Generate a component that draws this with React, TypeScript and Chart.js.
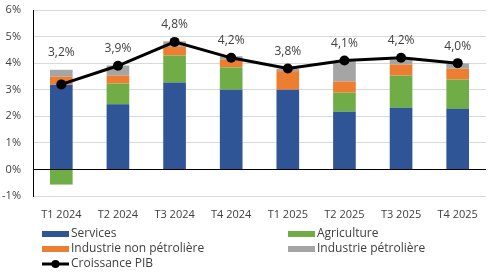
import React, { useEffect, useRef } from "react";
import { Chart, registerables } from "chart.js";

Chart.register(...registerables);

const categories = ["T1 2024", "T2 2024", "T3 2024", "T4 2024", "T1 2025", "T2 2025", "T3 2025", "T4 2025"];
const services = [3.19, 2.45, 3.27, 3.0, 3.0, 2.17, 2.32, 2.28];
const agriculture = [-0.57, 0.78, 1.02, 0.84, 0.0, 0.72, 1.21, 1.1];
const industrieNonPetroliere = [0.3, 0.3, 0.32, 0.3, 0.7, 0.42, 0.42, 0.41];
const industriePetroliere = [0.26, 0.38, 0.21, 0.12, 0.09, 0.76, 0.19, 0.2];
const croissancePIB = [3.2, 3.9, 4.8, 4.2, 3.8, 4.1, 4.2, 4.0];
const yTicks = [-1, 0, 1, 2, 3, 4, 5, 6];

const FONT = "'Open Sans', sans-serif";
const TEXT = "#404040";

const labelPlugin = {
  id: "lineLabels",
  afterDatasetsDraw(chart: any) {
    const ctx = chart.ctx;
    const idx = chart.data.datasets.findIndex((d: any) => d.type === "line");
    const meta = chart.getDatasetMeta(idx);
    ctx.save();
    ctx.font = `12px ${FONT}`;
    ctx.fillStyle = TEXT;
    ctx.textAlign = "center";
    ctx.textBaseline = "middle";
    meta.data.forEach((pt: any, i: number) => {
      const v = chart.data.datasets[idx].data[i] as number;
      const txt = v.toFixed(1).replace(".", ",") + "%";
      const off = i === 0 ? 32 : 17;
      ctx.fillText(txt, pt.x, pt.y - off);
    });
    ctx.restore();
  },
};

const legendPlugin = {
  id: "customLegend",
  afterDraw(chart: any) {
    const ctx = chart.ctx;
    const cols = [42, 288];
    const rows = [234, 249, 264];
    ctx.save();
    ctx.font = `12px ${FONT}`;
    ctx.textBaseline = "middle";
    ctx.textAlign = "left";
    chart.data.datasets.forEach((ds: any, i: number) => {
      const x = cols[i % 2];
      const y = rows[Math.floor(i / 2)];
      if (ds.type === "line") {
        ctx.strokeStyle = ds.borderColor;
        ctx.lineWidth = 3;
        ctx.beginPath();
        ctx.moveTo(x, y);
        ctx.lineTo(x + 27, y);
        ctx.stroke();
        ctx.fillStyle = ds.borderColor;
        ctx.beginPath();
        ctx.arc(x + 13.5, y, 4, 0, Math.PI * 2);
        ctx.fill();
      } else {
        ctx.fillStyle = ds.backgroundColor;
        ctx.fillRect(x, y - 3, 27, 6);
      }
      ctx.fillStyle = TEXT;
      ctx.fillText(ds.label, x + 29, y);
    });
    ctx.restore();
  },
};

export default function App() {
  const ref = useRef<HTMLCanvasElement>(null);
  useEffect(() => {
    document.body.style.margin = "0";
    const chart = new Chart(ref.current!, {
      type: "bar",
      data: {
        labels: categories,
        datasets: [
          { type: "bar", label: "Services", data: services, backgroundColor: "#2F5597", stack: "s", order: 1, barPercentage: 0.4, categoryPercentage: 1 },
          { type: "bar", label: "Agriculture", data: agriculture, backgroundColor: "#70AD47", stack: "s", order: 1, barPercentage: 0.4, categoryPercentage: 1 },
          { type: "bar", label: "Industrie non pétrolière", data: industrieNonPetroliere, backgroundColor: "#ED7D31", stack: "s", order: 1, barPercentage: 0.4, categoryPercentage: 1 },
          { type: "bar", label: "Industrie pétrolière", data: industriePetroliere, backgroundColor: "#A5A5A5", stack: "s", order: 1, barPercentage: 0.4, categoryPercentage: 1 },
          { type: "line", label: "Croissance PIB", data: croissancePIB, borderColor: "#000000", backgroundColor: "#000000", borderWidth: 3, pointRadius: 5, pointBackgroundColor: "#000000", pointBorderWidth: 0, order: 0, tension: 0 } as any,
        ],
      },
      options: {
        animation: false,
        responsive: false,
        layout: { padding: { top: 10, right: 3, left: 0, bottom: 0 } },
        plugins: { legend: { display: false }, tooltip: { enabled: false } },
        scales: {
          x: {
            stacked: true,
            grid: { display: false, drawTicks: false },
            border: { display: false },
            afterFit: (s: any) => { s.height = 76; s.paddingLeft = 0; s.paddingRight = 0; },
            ticks: { color: TEXT, font: { family: FONT, size: 11 }, padding: 12, maxRotation: 0 },
          },
          y: {
            stacked: true,
            min: -1,
            max: 6,
            afterBuildTicks: (s: any) => { s.ticks = yTicks.map((v) => ({ value: v })); },
            afterFit: (s: any) => { s.width = 33; s.paddingTop = 0; s.paddingBottom = 0; },
            grid: {
              drawTicks: false,
              color: (c: any) => (c.tick && c.tick.value === 0 ? "#000000" : "#D9D9D9"),
              lineWidth: 1,
            },
            border: { display: true, color: "#000000", width: 1 },
            ticks: { color: TEXT, font: { family: FONT, size: 11 }, padding: 12, callback: (v: any) => v + "%" },
          },
        },
      },
      plugins: [labelPlugin, legendPlugin],
    });
    return () => chart.destroy();
  }, []);
  return <canvas ref={ref} width={491} height={272} style={{ display: "block" }} />;
}
